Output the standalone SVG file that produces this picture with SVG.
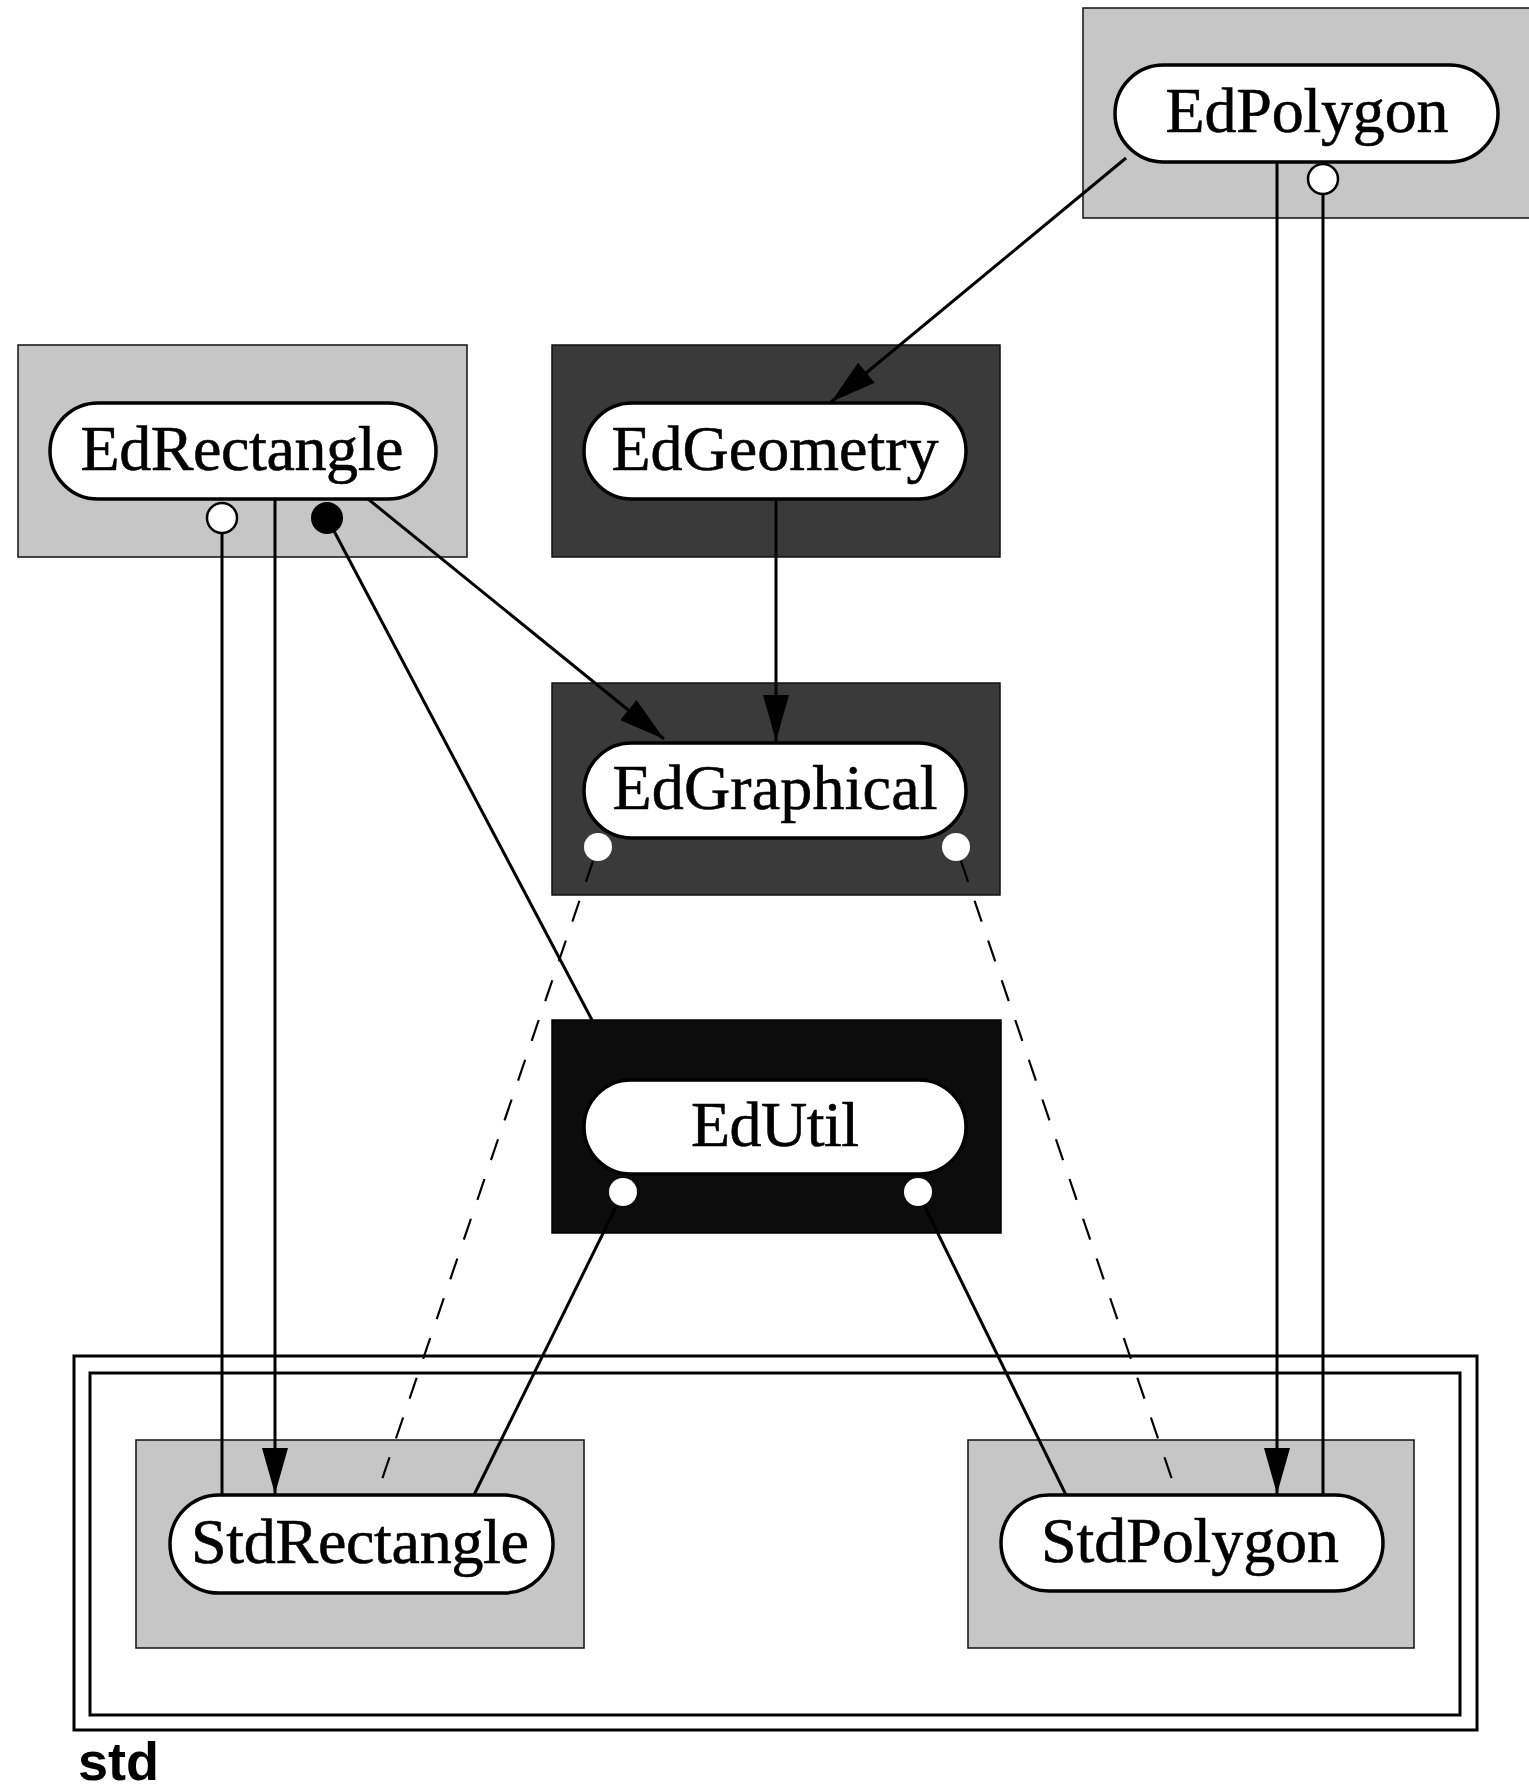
<svg xmlns="http://www.w3.org/2000/svg" width="1529" height="1792" viewBox="0 0 1529 1792">
<style>
.bg{fill:#ffffff}
.light{fill:#c6c6c6;stroke:#111;stroke-width:1.5}
.mid{fill:#3a3a3a;stroke:#111;stroke-width:1.5}
.dark{fill:#0c0c0c;stroke:#000;stroke-width:1.5}
.pill{fill:#ffffff;stroke:#000;stroke-width:3.5}
.label{font-family:"Liberation Serif","Times New Roman",serif;font-size:64px;fill:#000;stroke:#000;stroke-width:0.6;text-anchor:middle}
.port{fill:#ffffff;stroke:#000;stroke-width:2.5}
.portw{fill:#ffffff;stroke:none}
.portf{fill:#000;stroke:#000;stroke-width:2}
.ln{fill:none;stroke:#000;stroke-width:3}
.dash{fill:none;stroke:#000;stroke-width:2.2;stroke-dasharray:22 20}
.frame{fill:none;stroke:#000;stroke-width:3}
</style>
<defs>
<marker id="arr" markerUnits="userSpaceOnUse" viewBox="0 0 46 26" markerWidth="46" markerHeight="26" refX="46" refY="13" orient="auto">
<path d="M0,0 L46,13 L0,26 z" fill="#000"/>
</marker>
</defs>
<rect class="bg" x="0" y="0" width="1529" height="1792"/>

<g id="std-package">
<rect class="frame" x="74" y="1356" width="1403" height="374"/>
<rect class="frame" x="90" y="1373" width="1370" height="342"/>
<text x="78" y="1780" font-family="'Liberation Sans',Arial,sans-serif" font-weight="bold" font-size="54">std</text>
</g>

<g id="EdPolygon">
<rect class="light" x="1083" y="8" width="460" height="210"/>
<rect class="pill" x="1115" y="65" width="383" height="97" rx="48.5"/>
<text class="label" x="1307" y="132" textLength="283">EdPolygon</text>
<circle class="port" cx="1323" cy="179" r="15"/>
</g>

<g id="EdRectangle">
<rect class="light" x="18" y="345" width="449" height="212"/>
<rect class="pill" x="50" y="403" width="386" height="96" rx="48"/>
<text class="label" x="242" y="470" textLength="323">EdRectangle</text>
<circle class="port" cx="222" cy="518" r="15"/>
<circle class="portf" cx="327" cy="518" r="15"/>
</g>

<g id="EdGeometry">
<rect class="mid" x="552" y="345" width="448" height="212"/>
<rect class="pill" x="584" y="403" width="382" height="96" rx="48"/>
<text class="label" x="775" y="470" textLength="327">EdGeometry</text>
</g>

<g id="EdGraphical">
<rect class="mid" x="552" y="683" width="448" height="212"/>
<rect class="pill" x="584" y="743" width="382" height="95" rx="47.5"/>
<text class="label" x="775" y="809" textLength="325">EdGraphical</text>
<circle class="portw" cx="598" cy="847" r="14"/>
<circle class="portw" cx="956" cy="847" r="14"/>
</g>

<g id="EdUtil">
<rect class="dark" x="552" y="1020" width="449" height="213"/>
<rect class="pill" x="584" y="1080" width="382" height="94" rx="47"/>
<text class="label" x="775" y="1146" textLength="168">EdUtil</text>
<circle class="portw" cx="623" cy="1192" r="14"/>
<circle class="portw" cx="918" cy="1192" r="14"/>
</g>

<g id="StdRectangle">
<rect class="light" x="136" y="1440" width="448" height="208"/>
<rect class="pill" x="170" y="1495" width="383" height="98" rx="49"/>
<text class="label" x="360" y="1563" textLength="338">StdRectangle</text>
</g>

<g id="StdPolygon">
<rect class="light" x="968" y="1440" width="446" height="208"/>
<rect class="pill" x="1001" y="1495" width="382" height="96" rx="48"/>
<text class="label" x="1190" y="1562" textLength="298">StdPolygon</text>
</g>

<g id="connectors">
<line class="ln" x1="1126" y1="158" x2="831" y2="402" marker-end="url(#arr)"/>
<line class="ln" x1="368" y1="499" x2="664" y2="739" marker-end="url(#arr)"/>
<line class="ln" x1="776" y1="499" x2="776" y2="741" marker-end="url(#arr)"/>
<line class="ln" x1="334" y1="531" x2="592" y2="1020"/>
<line class="ln" x1="222" y1="533" x2="222" y2="1495"/>
<line class="ln" x1="275" y1="499" x2="275" y2="1494" marker-end="url(#arr)"/>
<line class="dash" x1="593" y1="861" x2="377" y2="1494"/>
<line class="dash" x1="961" y1="861" x2="1177" y2="1494"/>
<line class="ln" x1="617" y1="1205" x2="474" y2="1495"/>
<line class="ln" x1="924" y1="1205" x2="1066" y2="1495"/>
<line class="ln" x1="1277" y1="162" x2="1277" y2="1494" marker-end="url(#arr)"/>
<line class="ln" x1="1323" y1="194" x2="1323" y2="1495"/>
</g>
</svg>
